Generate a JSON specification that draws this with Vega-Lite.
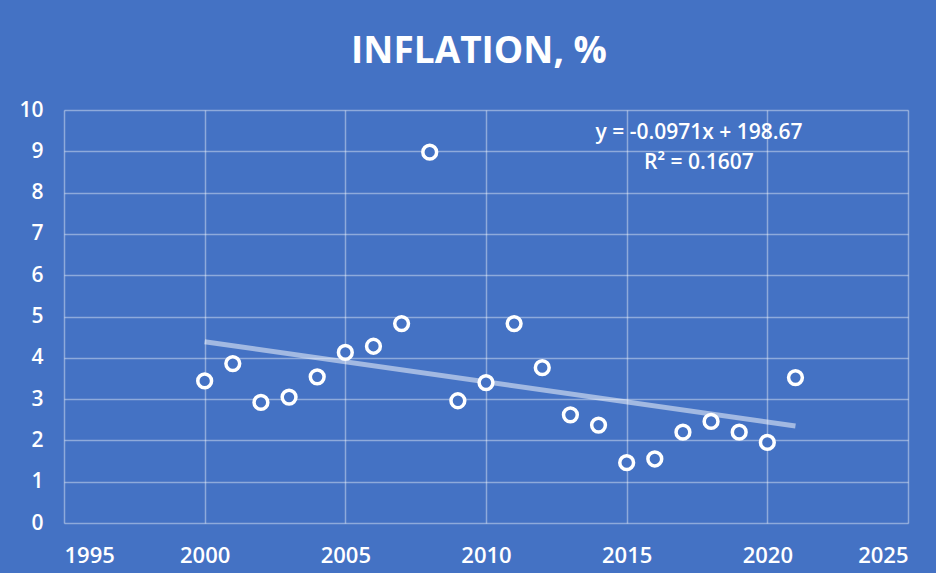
{
  "$schema": "https://vega.github.io/schema/vega-lite/v6.json",
  "width": 844,
  "height": 413,
  "autosize": "none",
  "padding": {"left": 64, "top": 110, "right": 28, "bottom": 50},
  "background": "#4472C4",
  "title": {
    "text": "INFLATION, %",
    "font": "Open Sans",
    "fontSize": 37,
    "fontWeight": "bold",
    "color": "white",
    "anchor": "middle",
    "offset": 28,
    "dx": -7
  },
  "config": {
    "view": {"stroke": null},
    "axis": {
      "labelFont": "Open Sans",
      "labelFontSize": 21,
      "labelFontWeight": 600,
      "labelColor": "white",
      "gridColor": "white",
      "gridOpacity": 0.4,
      "gridWidth": 1.5,
      "domain": false,
      "ticks": false,
      "title": null
    }
  },
  "datasets": {
    "points": [
      {"year": 2000, "inflation": 3.44},
      {"year": 2001, "inflation": 3.86},
      {"year": 2002, "inflation": 2.92},
      {"year": 2003, "inflation": 3.05},
      {"year": 2004, "inflation": 3.54},
      {"year": 2005, "inflation": 4.13},
      {"year": 2006, "inflation": 4.28},
      {"year": 2007, "inflation": 4.83},
      {"year": 2008, "inflation": 8.98},
      {"year": 2009, "inflation": 2.96},
      {"year": 2010, "inflation": 3.40},
      {"year": 2011, "inflation": 4.83},
      {"year": 2012, "inflation": 3.76},
      {"year": 2013, "inflation": 2.62},
      {"year": 2014, "inflation": 2.37},
      {"year": 2015, "inflation": 1.46},
      {"year": 2016, "inflation": 1.55},
      {"year": 2017, "inflation": 2.20},
      {"year": 2018, "inflation": 2.46},
      {"year": 2019, "inflation": 2.20},
      {"year": 2020, "inflation": 1.95},
      {"year": 2021, "inflation": 3.52}
    ],
    "trend": [
      {"year": 2000, "inflation": 4.39},
      {"year": 2021, "inflation": 2.35}
    ],
    "labels": [
      {"year": 2017.57, "inflation": 9.44, "label": "y = -0.0971x + 198.67"},
      {"year": 2017.57, "inflation": 8.72, "label": "R² = 0.1607"}
    ]
  },
  "layer": [
    {
      "data": {"name": "trend"},
      "mark": {"type": "line", "color": "white", "opacity": 0.5, "strokeWidth": 5},
      "encoding": {
        "x": {
          "field": "year", "type": "quantitative",
          "scale": {"domain": [1995, 2025], "nice": false, "zero": false},
          "axis": {"values": [1995, 2000, 2005, 2010, 2015, 2020, 2025], "format": "d", "labelPadding": 22, "labelFontSize": 22}
        },
        "y": {
          "field": "inflation", "type": "quantitative",
          "scale": {"domain": [0, 10], "nice": false},
          "axis": {"values": [0, 1, 2, 3, 4, 5, 6, 7, 8, 9, 10], "labelPadding": 21}
        }
      }
    },
    {
      "data": {"name": "points"},
      "mark": {"type": "point", "shape": "circle", "size": 190, "strokeWidth": 3.5, "color": "white", "fill": "#4472C4", "filled": false, "opacity": 1},
      "encoding": {
        "x": {"field": "year", "type": "quantitative"},
        "y": {"field": "inflation", "type": "quantitative"}
      }
    },
    {
      "data": {"name": "labels"},
      "mark": {"type": "text", "font": "Open Sans", "fontSize": 21, "fontWeight": 600, "color": "white", "align": "center", "baseline": "middle"},
      "encoding": {
        "x": {"field": "year", "type": "quantitative"},
        "y": {"field": "inflation", "type": "quantitative"},
        "text": {"field": "label"}
      }
    }
  ]
}
